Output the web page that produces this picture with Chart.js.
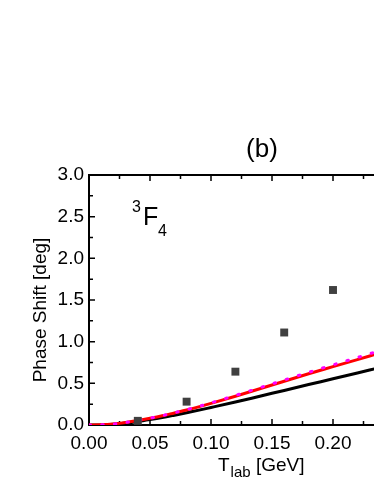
<!DOCTYPE html>
<html>
<head>
<meta charset="utf-8">
<script src="https://cdn.jsdelivr.net/npm/chart.js@4"></script>
<style>
  body { margin: 0; background: #fff; overflow: hidden; }
  #wrap { width: 374px; height: 484px; position: relative; }
</style>
</head>
<body>
<div id="wrap"><canvas id="myChart"></canvas></div>
<script>
// lab energy grid for the curves (GeV)
const tlab = [0, 0.01, 0.02, 0.03, 0.04, 0.05, 0.06, 0.07, 0.08, 0.10, 0.12, 0.14, 0.16, 0.18, 0.20, 0.22, 0.24];
const redShift = [0, 0.002, 0.012, 0.03, 0.053, 0.08, 0.11, 0.145, 0.18, 0.26, 0.345, 0.435, 0.525, 0.615, 0.70, 0.785, 0.87];
const blackShift = [0, 0.001, 0.009, 0.023, 0.042, 0.065, 0.09, 0.118, 0.147, 0.21, 0.275, 0.345, 0.415, 0.485, 0.555, 0.625, 0.695];
const magentaShift = [0, 0.002, 0.012, 0.03, 0.054, 0.082, 0.112, 0.148, 0.184, 0.266, 0.355, 0.447, 0.54, 0.632, 0.722, 0.81, 0.90];

// square markers
const pwaT = [0.04, 0.08, 0.12, 0.16, 0.20];
const pwaShift = [0.05, 0.28, 0.64, 1.11, 1.62];

const xTickLabels = ['0.00', '0.05', '0.10', '0.15', '0.20'];
const yTickLabels = ['0.0', '0.5', '1.0', '1.5', '2.0', '2.5', '3.0'];

const FONT = "'Liberation Sans', Arial, sans-serif";

function pts(xs, ys) {
    return xs.map((x, i) => ({x: x, y: ys[i]}));
}

// frame, inward ticks and the extra labels
const frame = {
    id: 'frame',
    beforeDatasetsDraw(chart) {
        const {ctx, chartArea: a, scales: {x, y}} = chart;
        ctx.save();
        ctx.strokeStyle = '#000';
        ctx.lineWidth = 2;
        ctx.beginPath();
        ctx.moveTo(a.left, a.top); ctx.lineTo(a.right, a.top);
        ctx.moveTo(a.left, a.top - 1); ctx.lineTo(a.left, a.bottom + 1);
        ctx.moveTo(a.left - 1, a.bottom); ctx.lineTo(a.right, a.bottom);
        ctx.stroke();

        ctx.lineWidth = 1.5;
        ctx.beginPath();
        for (let i = 1; i < 10; i++) {
            const px = x.getPixelForValue(i * 0.025);
            if (px > a.right) break;
            const len = i % 2 === 0 ? 6 : 4;
            ctx.moveTo(px, a.bottom); ctx.lineTo(px, a.bottom - len);
            ctx.moveTo(px, a.top); ctx.lineTo(px, a.top + len);
        }
        for (let i = 1; i < 12; i++) {
            const py = y.getPixelForValue(i * 0.25);
            const len = i % 2 === 0 ? 6 : 4;
            ctx.moveTo(a.left, py); ctx.lineTo(a.left + len, py);
        }
        ctx.stroke();
        ctx.restore();
    },
    afterDraw(chart) {
        const ctx = chart.ctx;
        ctx.save();
        ctx.fillStyle = '#000';

        // y title
        ctx.save();
        ctx.translate(41, 310);
        ctx.rotate(-Math.PI / 2);
        ctx.font = '19px ' + FONT;
        ctx.textAlign = 'center';
        ctx.textBaseline = 'middle';
        ctx.fillText('Phase Shift [deg]', 0, 0);
        ctx.restore();

        // x title T_lab [GeV]
        ctx.textAlign = 'left';
        ctx.textBaseline = 'alphabetic';
        let cx = 218;
        ctx.font = '19px ' + FONT;
        ctx.fillText('T', cx, 471);
        cx += ctx.measureText('T').width + 1;
        ctx.font = '15px ' + FONT;
        ctx.fillText('lab', cx, 477);
        cx += ctx.measureText('lab').width;
        ctx.font = '19px ' + FONT;
        ctx.fillText(' [GeV]', cx, 471);

        // panel label
        ctx.font = '26px ' + FONT;
        ctx.textAlign = 'center';
        ctx.textBaseline = 'middle';
        ctx.fillText('(b)', 262, 150);

        // 3F4
        ctx.textAlign = 'left';
        ctx.textBaseline = 'alphabetic';
        ctx.font = '16px ' + FONT;
        ctx.fillText('3', 132, 212);
        ctx.font = '25px ' + FONT;
        ctx.fillText('F', 143, 225);
        ctx.font = '16px ' + FONT;
        ctx.fillText('4', 158, 236);

        ctx.restore();
    }
};

const ctx = document.getElementById('myChart').getContext('2d');
const myChart = new Chart(ctx, {
    type: 'line',
    data: {
        datasets: [
            {
                type: 'scatter',
                data: pts(pwaT, pwaShift),
                pointStyle: 'rect',
                pointRadius: 5.6,
                pointBorderWidth: 0,
                pointBackgroundColor: '#404040',
                showLine: false
            },
            {
                data: pts(tlab, magentaShift),
                borderColor: '#ff00ff',
                borderWidth: 3,
                borderDash: [1.5, 11.2],
                borderCapStyle: 'round',
                pointRadius: 0,
                cubicInterpolationMode: 'monotone'
            },
            {
                data: pts(tlab, redShift),
                borderColor: '#ff0000',
                borderWidth: 3,
                pointRadius: 0,
                cubicInterpolationMode: 'monotone'
            },
            {
                data: pts(tlab, blackShift),
                borderColor: '#000000',
                borderWidth: 3,
                pointRadius: 0,
                cubicInterpolationMode: 'monotone'
            }
        ]
    },
    options: {
        responsive: true,
        maintainAspectRatio: false,
        animation: false,
        events: [],
        layout: { autoPadding: false, padding: { top: 175, right: 0, left: 0, bottom: 0 } },
        plugins: {
            legend: { display: false },
            tooltip: { enabled: false }
        },
        scales: {
            x: {
                type: 'linear',
                min: 0,
                max: 0.2336,
                afterFit: s => { s.height = 59; s.paddingLeft = 0; s.paddingRight = 0; },
                afterBuildTicks: s => { s.ticks = xTickLabels.map(t => ({value: parseFloat(t)})); },
                grid: { display: false, drawTicks: false },
                border: { display: false },
                ticks: {
                    padding: 7,
                    color: '#000',
                    maxRotation: 0,
                    autoSkip: false,
                    font: { family: FONT, size: 19 },
                    callback: (v, i) => xTickLabels[i]
                }
            },
            y: {
                min: 0,
                max: 3,
                afterFit: s => { s.width = 89; s.paddingTop = 0; s.paddingBottom = 0; },
                afterBuildTicks: s => { s.ticks = yTickLabels.map(t => ({value: parseFloat(t)})); },
                grid: { display: false, drawTicks: false },
                border: { display: false },
                ticks: {
                    padding: 5,
                    color: '#000',
                    autoSkip: false,
                    font: { family: FONT, size: 19 },
                    callback: (v, i) => yTickLabels[i]
                }
            }
        }
    },
    plugins: [frame]
});
</script>
</body>
</html>
